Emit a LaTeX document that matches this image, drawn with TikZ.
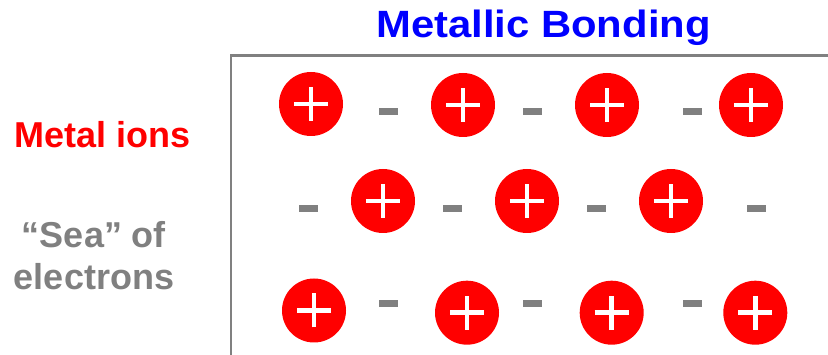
\documentclass[tikz,border=0pt]{standalone}
\usepackage{fontspec}
\setmainfont{Liberation Sans}
\definecolor{ionred}{RGB}{255,0,0}
\definecolor{titleblue}{RGB}{0,0,255}
\definecolor{elgray}{RGB}{128,128,128}
\begin{document}
\begin{tikzpicture}[x=1pt,y=-1pt,
  ion/.style={circle,fill=ionred,minimum size=64pt,inner sep=0pt,
    path picture={
      \draw[white,line width=4.5pt]
        ([xshift=-17pt]path picture bounding box.center) -- ([xshift=17pt]path picture bounding box.center)
        ([yshift=-17pt]path picture bounding box.center) -- ([yshift=17pt]path picture bounding box.center);
    }},
  electron/.style={rectangle,fill=elgray,minimum width=19pt,minimum height=7pt,inner sep=0pt},
  frameline/.style={draw=elgray,line width=2.5pt},
  label/.style={font=\bfseries\fontsize{36}{42}\selectfont,inner sep=0pt,align=center}
]
\useasboundingbox (0,0) rectangle (828,355);

% open frame around the lattice
\coordinate (fb) at (231,360);
\coordinate (fc) at (231,55.3);
\coordinate (fr) at (835,55.3);
\draw[frameline] (fb) -- (fc) -- (fr);

% title
\node[inner sep=0pt,anchor=base,text=titleblue,font=\bfseries\fontsize{38}{38}\selectfont]
  (title) at (543.5,38) {\scalebox{1.1}[1]{Metallic Bonding}};

% side labels
\node[label,text=ionred,anchor=base] (ions) at (102.5,148) {Metal ions};
\node[label,text=elgray,anchor=base] (sea) at (94,248) {“Sea” of};
\node[label,text=elgray,anchor=base] (electrons) at (94,290) {electrons};

% row 1
\node[ion] (a1) at (311,104) {};
\node[ion] (a2) at (463,105) {};
\node[ion] (a3) at (607,105) {};
\node[ion] (a4) at (751,105) {};
\node[electron] (m1) at (388.5,111.5) {};
\node[electron] (m2) at (532.5,111.5) {};
\node[electron] (m3) at (692.5,111.5) {};

% row 2
\node[electron] (n1) at (308.3,208.3) {};
\node[ion] (b1) at (383,201) {};
\node[electron] (n2) at (452.5,208.3) {};
\node[ion] (b2) at (527,201) {};
\node[electron] (n3) at (596.5,208.3) {};
\node[ion] (b3) at (671,201) {};
\node[electron] (n4) at (756.5,208.3) {};

% row 3
\node[ion] (c1) at (314,310.5) {};
\node[ion] (c2) at (467,312.7) {};
\node[ion] (c3) at (611.7,312.7) {};
\node[ion] (c4) at (755.3,312.7) {};
\node[electron] (p1) at (388.5,303.3) {};
\node[electron] (p2) at (532.5,303.3) {};
\node[electron] (p3) at (692.5,303.3) {};
\end{tikzpicture}
\end{document}
